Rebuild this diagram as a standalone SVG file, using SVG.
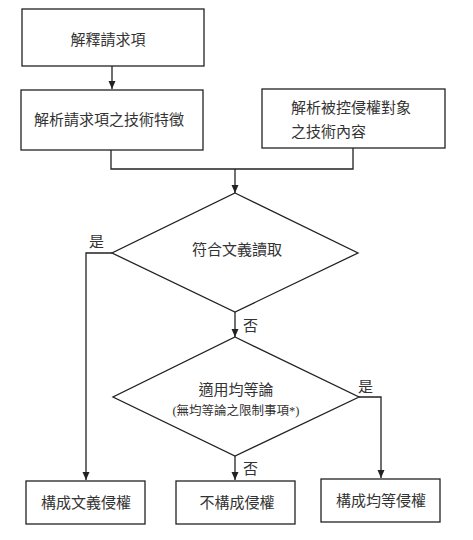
<svg xmlns="http://www.w3.org/2000/svg" width="473" height="540" viewBox="0 0 473 540">
<defs>
<marker id="arr" viewBox="0 0 8 8" refX="8" refY="4" markerWidth="8" markerHeight="8" markerUnits="userSpaceOnUse" orient="auto">
<path d="M0,0.5 L8,4 L0,7.5 Z" fill="#222"/>
</marker>
<style>
.box{fill:#fff;stroke:#222;stroke-width:1.3}
.t{font-family:"Liberation Serif","Noto Sans CJK TC",serif;font-size:15px;fill:#333}
.s{font-size:12.5px}
.c{fill:none;stroke:#222;stroke-width:1.3}
</style>
</defs>
<rect width="473" height="540" fill="#fff"/>
<g id="connectors">
<path class="c" d="M112,66 V89" marker-end="url(#arr)"/>
<path class="c" d="M111,150 V169 H353 V148"/>
<path class="c" d="M235,169 V193" marker-end="url(#arr)"/>
<path class="c" d="M112,253 H86 V480" marker-end="url(#arr)"/>
<path class="c" d="M235,312 V337" marker-end="url(#arr)"/>
<path class="c" d="M359,397 H381 V478" marker-end="url(#arr)"/>
<path class="c" d="M235,456 V480" marker-end="url(#arr)"/>
<text class="t" x="89" y="247">是</text>
<text class="t" x="243" y="331">否</text>
<text class="t" x="358" y="392">是</text>
<text class="t" x="243" y="474">否</text>
</g>
<g id="n1"><rect class="box" x="22" y="9" width="182" height="57"/><text class="t" x="108" y="45" text-anchor="middle">解釋請求項</text></g>
<g id="n2"><rect class="box" x="21" y="90" width="182" height="60"/><text class="t" x="34" y="125">解析請求項之技術特徵</text></g>
<g id="n3"><rect class="box" x="262" y="89" width="183" height="59"/><text class="t" x="291" y="113">解析被控侵權對象</text><text class="t" x="291" y="137">之技術內容</text></g>
<g id="d1"><polygon class="box" points="235,193 358,253 235,312 112,253"/><text class="t" x="237" y="255" text-anchor="middle">符合文義讀取</text></g>
<g id="d2"><polygon class="box" points="235,337 359,397 235,456 113,397"/><text class="t" x="236" y="395" text-anchor="middle">適用均等論</text><text class="t s" x="236" y="415" text-anchor="middle">(無均等論之限制事項*)</text></g>
<g id="r1"><rect class="box" x="26" y="481" width="119" height="43"/><text class="t" x="86" y="508" text-anchor="middle">構成文義侵權</text></g>
<g id="r2"><rect class="box" x="176" y="481" width="119" height="43"/><text class="t" x="237" y="508" text-anchor="middle">不構成侵權</text></g>
<g id="r3"><rect class="box" x="321" y="479" width="119" height="43"/><text class="t" x="381" y="506" text-anchor="middle">構成均等侵權</text></g>
</svg>
